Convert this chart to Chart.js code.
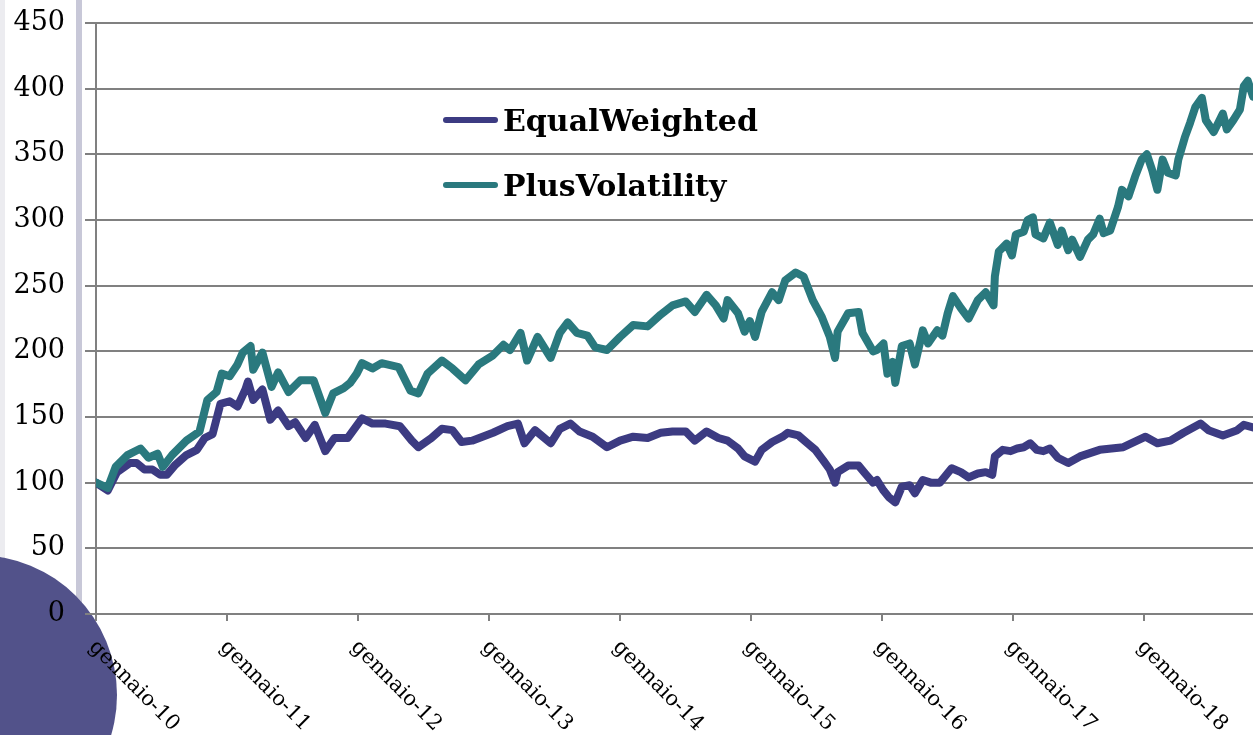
<!DOCTYPE html>
<html>
<head>
<meta charset="utf-8">
<script src="https://cdn.jsdelivr.net/npm/chart.js@4.4.1/dist/chart.umd.min.js"></script>
<style>
  html, body { margin: 0; padding: 0; background: #ffffff; overflow: hidden; }
  #wrap { position: relative; width: 1253px; height: 735px; }
  .strip { position: absolute; left: 0; top: 0; width: 5px; height: 735px; background: #ececf0; }
  .bar { position: absolute; left: 76px; top: 0; width: 6px; height: 735px; background: #c8c8d8; }
  .circle { position: absolute; left: -163px; top: 555px; width: 280px; height: 280px; border-radius: 50%; background: #52528a; }
  canvas { position: absolute; left: 0; top: 0; }
</style>
</head>
<body>
<div id="wrap">
  <div class="strip"></div>
  <div class="bar"></div>
  <div class="circle"></div>
  <canvas id="lineChart" width="1253" height="735"></canvas>
</div>
<script>
// dates as decimal years (2010.00 = gennaio 2010)
const eqDates = [2010.00, 2010.09, 2010.16, 2010.26, 2010.31, 2010.37, 2010.43, 2010.49, 2010.54, 2010.60,
    2010.69, 2010.77, 2010.83, 2010.89, 2010.95, 2011.02, 2011.08, 2011.14, 2011.16, 2011.20,
    2011.27, 2011.33, 2011.39, 2011.47, 2011.52, 2011.60, 2011.67, 2011.75, 2011.82, 2011.92,
    2012.03, 2012.11, 2012.21, 2012.32, 2012.41, 2012.46, 2012.56, 2012.64, 2012.72, 2012.79,
    2012.87, 2012.95, 2013.03, 2013.14, 2013.22, 2013.27, 2013.35, 2013.47, 2013.54, 2013.62,
    2013.69, 2013.79, 2013.90, 2014.00, 2014.10, 2014.21, 2014.31, 2014.40, 2014.50, 2014.57,
    2014.66, 2014.75, 2014.82, 2014.90, 2014.95, 2015.03, 2015.08, 2015.16, 2015.24, 2015.28,
    2015.36, 2015.43, 2015.49, 2015.55, 2015.60, 2015.64, 2015.66, 2015.74, 2015.82, 2015.87,
    2015.93, 2015.96, 2016.01, 2016.05, 2016.10, 2016.15, 2016.21, 2016.25, 2016.31, 2016.37,
    2016.44, 2016.53, 2016.60, 2016.66, 2016.73, 2016.79, 2016.84, 2016.86, 2016.92, 2016.98,
    2017.03, 2017.08, 2017.13, 2017.18, 2017.23, 2017.28, 2017.34, 2017.42, 2017.51, 2017.66,
    2017.84, 2018.01, 2018.10, 2018.20, 2018.30, 2018.43, 2018.49, 2018.60, 2018.71, 2018.76,
    2018.83];
const eqValues = [100, 94, 108, 115, 115, 110, 110, 106, 106, 113,
    121, 125, 134, 137, 160, 162, 158, 171, 177, 163,
    171, 148, 155, 143, 146, 134, 144, 124, 134, 134,
    149, 145, 145, 143, 132, 127, 134, 141, 140, 131,
    132, 135, 138, 143, 145, 130, 140, 130, 141, 145,
    139, 135, 127, 132, 135, 134, 138, 139, 139, 132,
    139, 134, 132, 126, 120, 116, 125, 131, 135, 138,
    136, 130, 125, 117, 110, 100, 108, 113, 113, 107,
    100, 102, 94, 89, 85, 97, 98, 92, 102, 100,
    100, 111, 108, 104, 107, 108, 106, 120, 125, 124,
    126, 127, 130, 125, 124, 126, 119, 115, 120, 125,
    127, 135, 130, 132, 138, 145, 140, 136, 140, 144,
    142];

const pvDates = [2010.00, 2010.09, 2010.15, 2010.24, 2010.34, 2010.40, 2010.47, 2010.51, 2010.58, 2010.69,
    2010.79, 2010.85, 2010.92, 2010.96, 2011.02, 2011.08, 2011.12, 2011.18, 2011.20, 2011.27,
    2011.34, 2011.39, 2011.47, 2011.56, 2011.66, 2011.75, 2011.81, 2011.89, 2011.94, 2011.99,
    2012.03, 2012.11, 2012.18, 2012.31, 2012.40, 2012.46, 2012.53, 2012.64, 2012.72, 2012.82,
    2012.92, 2013.03, 2013.11, 2013.16, 2013.24, 2013.29, 2013.37, 2013.47, 2013.54, 2013.60,
    2013.67, 2013.75, 2013.81, 2013.90, 2014.00, 2014.10, 2014.21, 2014.31, 2014.40, 2014.50,
    2014.57, 2014.66, 2014.73, 2014.79, 2014.82, 2014.90, 2014.95, 2014.99, 2015.03, 2015.08,
    2015.16, 2015.21, 2015.26, 2015.34, 2015.40, 2015.47, 2015.54, 2015.60, 2015.64, 2015.66,
    2015.74, 2015.82, 2015.85, 2015.93, 2015.96, 2016.01, 2016.04, 2016.08, 2016.10, 2016.15,
    2016.21, 2016.25, 2016.31, 2016.35, 2016.42, 2016.46, 2016.50, 2016.54, 2016.60, 2016.66,
    2016.73, 2016.79, 2016.85, 2016.86, 2016.89, 2016.95, 2016.99, 2017.02, 2017.08, 2017.11,
    2017.15, 2017.17, 2017.23, 2017.28, 2017.34, 2017.37, 2017.42, 2017.45, 2017.51, 2017.57,
    2017.61, 2017.66, 2017.69, 2017.74, 2017.80, 2017.83, 2017.88, 2017.93, 2017.98, 2018.02,
    2018.06, 2018.10, 2018.14, 2018.18, 2018.24, 2018.26, 2018.31, 2018.35, 2018.39, 2018.44,
    2018.47, 2018.53, 2018.57, 2018.60, 2018.63, 2018.68, 2018.73, 2018.76, 2018.79, 2018.83];
const pvValues = [100, 96, 112, 121, 126, 119, 122, 112, 121, 132,
    139, 163, 169, 183, 181, 190, 199, 204, 186, 199,
    173, 184, 169, 178, 178, 153, 168, 172, 176, 183,
    191, 187, 191, 188, 170, 168, 183, 193, 187, 178,
    190, 197, 205, 201, 214, 193, 211, 195, 214, 222,
    214, 212, 203, 201, 211, 220, 219, 228, 235, 238,
    230, 243, 235, 225, 239, 229, 215, 223, 211, 230,
    245, 239, 254, 260, 257, 239, 226, 211, 195, 215,
    229, 230, 214, 200, 201, 206, 183, 192, 176, 204,
    206, 190, 216, 206, 216, 212, 229, 242, 233, 225,
    239, 245, 235, 257, 276, 282, 273, 289, 291, 300,
    302, 289, 286, 298, 281, 292, 277, 285, 272, 285,
    289, 301, 290, 292, 310, 323, 318, 333, 346, 350,
    338, 323, 346, 336, 334, 346, 363, 374, 386, 393,
    376, 367, 375, 381, 369, 376, 384, 402, 406, 394];

const seriesNames = ['EqualWeighted', 'PlusVolatility'];
const seriesColors = ['#3c3b82', '#2a797e'];

const xTickYears = [2010, 2011, 2012, 2013, 2014, 2015, 2016, 2017, 2018];
const xTickLabels = ['gennaio-10', 'gennaio-11', 'gennaio-12', 'gennaio-13', 'gennaio-14',
    'gennaio-15', 'gennaio-16', 'gennaio-17', 'gennaio-18'];
const yMin = 0;
const yMax = 450;
const yStep = 50;

const toPoints = (dates, values) => dates.map((d, i) => ({ x: d, y: values[i] }));

// rotated date labels under the axis (clockwise, like the original)
const dateLabels = {
    id: 'dateLabels',
    afterDraw(chart) {
        const ctx = chart.ctx;
        const xs = chart.scales.x;
        ctx.save();
        ctx.font = '21px "DejaVu Serif"';
        ctx.fillStyle = '#000000';
        ctx.textAlign = 'left';
        ctx.textBaseline = 'middle';
        xTickYears.forEach((year, i) => {
            const px = xs.getPixelForValue(year);
            ctx.save();
            ctx.translate(px - 4, chart.chartArea.bottom + 30);
            ctx.rotate(Math.PI / 4);
            ctx.fillText(xTickLabels[i], 0, 0);
            ctx.restore();
        });
        ctx.restore();
    }
};

// legend sitting inside the plot
const insideLegend = {
    id: 'insideLegend',
    afterDraw(chart) {
        const ctx = chart.ctx;
        ctx.save();
        ctx.font = 'bold 30px "DejaVu Serif"';
        ctx.textAlign = 'left';
        ctx.textBaseline = 'alphabetic';
        ctx.lineCap = 'round';
        ctx.lineWidth = 6;
        seriesNames.forEach((name, i) => {
            const y = 120 + i * 65;
            ctx.strokeStyle = seriesColors[i];
            ctx.beginPath();
            ctx.moveTo(446, y);
            ctx.lineTo(495, y);
            ctx.stroke();
            ctx.fillStyle = '#000000';
            ctx.fillText(name, 503, y + 11);
        });
        ctx.restore();
    }
};

const canvas = document.getElementById('lineChart');

new Chart(canvas, {
    type: 'line',
    data: {
        datasets: [{
            label: seriesNames[0],
            data: toPoints(eqDates, eqValues),
            borderColor: seriesColors[0],
            borderWidth: 8,
            pointRadius: 0,
            borderJoinStyle: 'round',
            borderCapStyle: 'round',
            tension: 0,
            order: 1
        }, {
            label: seriesNames[1],
            data: toPoints(pvDates, pvValues),
            borderColor: seriesColors[1],
            borderWidth: 8,
            pointRadius: 0,
            borderJoinStyle: 'round',
            borderCapStyle: 'round',
            tension: 0,
            order: 0
        }]
    },
    options: {
        responsive: false,
        animation: false,
        devicePixelRatio: 1,
        layout: { padding: { top: 23, right: 0, bottom: 0, left: 0 } },
        plugins: {
            legend: { display: false },
            tooltip: { enabled: false }
        },
        scales: {
            x: {
                type: 'linear',
                min: xTickYears[0],
                max: 2018.83,
                afterBuildTicks: (scale) => {
                    scale.ticks = xTickYears.map((v) => ({ value: v }));
                },
                afterFit: (scale) => {
                    scale.height = 121;
                    scale.paddingLeft = 0;
                    scale.paddingRight = 0;
                },
                ticks: { display: false },
                grid: {
                    drawOnChartArea: false,
                    drawTicks: true,
                    tickLength: 7,
                    color: '#808080',
                    lineWidth: 2
                },
                border: { display: true, color: '#808080', width: 2 }
            },
            y: {
                min: yMin,
                max: yMax,
                afterFit: (scale) => {
                    scale.width = 96;
                    scale.paddingTop = 0;
                    scale.paddingBottom = 0;
                },
                ticks: {
                    stepSize: yStep,
                    padding: 20,
                    color: '#000000',
                    font: { family: '"DejaVu Serif"', size: 27 }
                },
                grid: {
                    color: '#808080',
                    lineWidth: 2,
                    tickLength: 11
                },
                border: { display: true, color: '#808080', width: 2 }
            }
        }
    },
    plugins: [dateLabels, insideLegend]
});
</script>
</body>
</html>
